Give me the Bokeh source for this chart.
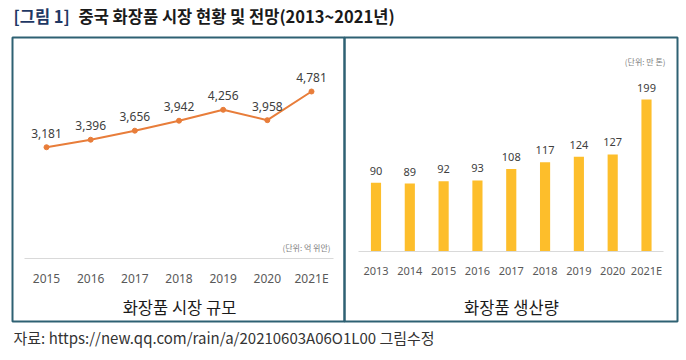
from bokeh.plotting import figure
from bokeh.models import Range1d, LinearAxis, FixedTicker, ColumnDataSource, LabelSet, Label
from bokeh.core.properties import value
from bokeh.embed import file_html
from bokeh.resources import INLINE

# ---- data ----
market_years = ["2015", "2016", "2017", "2018", "2019", "2020", "2021E"]
market_values = [3181, 3396, 3656, 3942, 4256, 3958, 4781]
prod_years = ["2013", "2014", "2015", "2016", "2017", "2018", "2019", "2020", "2021E"]
prod_values = [90, 89, 92, 93, 108, 117, 124, 127, 199]

title_tag = "[그림 1]"
title_text = "중국 화장품 시장 현황 및 전망(2013~2021년)"
left_title = "화장품 시장 규모"
right_title = "화장품 생산량"
left_unit = "(단위: 억 위안)"
right_unit = "(단위: 만 톤)"
source_note = "자료: https://new.qq.com/rain/a/20210603A06O1L00 그림수정"

KR = "Noto Sans CJK KR"
NUM = "Noto Sans"

W, H = 680, 350

p = figure(width=W, height=H, output_backend="svg", toolbar_location=None,
           x_range=Range1d(0, W), y_range=Range1d(H, 0),
           x_axis_type=None, y_axis_type=None, min_border=0,
           outline_line_color=None, background_fill_color="white",
           border_fill_color="white")


def x_range_for(v0, px0, v1, px1):
    s = (px1 - px0) / (v1 - v0)
    return Range1d(v0 - px0 / s, v0 + (W - px0) / s)


def y_range_for(v0, py0, v1, py1):
    # py measured from the top of the canvas
    b0, b1 = H - py0, H - py1
    s = (b1 - b0) / (v1 - v0)
    return Range1d(v0 - b0 / s, v0 + (H - b0) / s)


# layout anchors (canvas pixels)
p.extra_x_ranges = {
    "lx": x_range_for(0, 46, len(market_years) - 1, 311),
    "bx": x_range_for(0, 375.5, len(prod_years) - 1, 646),
}
p.extra_y_ranges = {
    "ly": y_range_for(0, 257.5, 4781, 91),
    "by": y_range_for(0, 251, 199, 99),
}

# frames
p.quad(left=[12, 344], right=[344, 677], top=[37, 37], bottom=[321, 321],
       fill_color=None, line_color="#2E6173", line_width=2)

# ---- line chart ----
src1 = ColumnDataSource(dict(i=list(range(len(market_years))), v=market_values,
                             lab=[f"{v:,}" for v in market_values]))
p.line(x="i", y="v", source=src1, x_range_name="lx", y_range_name="ly",
       line_color="#E87D3A", line_width=2)
p.scatter(x="i", y="v", source=src1, x_range_name="lx", y_range_name="ly",
          size=5, fill_color="#E87D3A", line_color="#E87D3A")
p.add_layout(LabelSet(x="i", y="v", text="lab", source=src1, x_range_name="lx",
                      y_range_name="ly", y_offset=14, text_align="center",
                      text_baseline="middle", text_font_size="12px",
                      text_color="#404040", text_font=value(NUM)))

ax1 = LinearAxis(x_range_name="lx", fixed_location=257.5, bounds=(-0.5, 6.5),
                 ticker=FixedTicker(ticks=list(range(len(market_years)))),
                 major_label_overrides={i: y for i, y in enumerate(market_years)},
                 axis_line_color="#D9D9D9", axis_line_width=1,
                 major_tick_line_color=None, minor_tick_line_color=None,
                 major_label_text_font_size="12px", major_label_text_color="#595959",
                 major_label_text_font=NUM, major_label_standoff=6)
p.add_layout(ax1, "below")

# ---- bar chart ----
src2 = ColumnDataSource(dict(i=list(range(len(prod_years))), v=prod_values,
                             lab=[str(v) for v in prod_values]))
p.vbar(x="i", top="v", bottom=0, width=0.3, source=src2, x_range_name="bx",
       y_range_name="by", fill_color="#FDBE2B", line_color=None)
p.add_layout(LabelSet(x="i", y="v", text="lab", source=src2, x_range_name="bx",
                      y_range_name="by", y_offset=12, text_align="center",
                      text_baseline="middle", text_font_size="11px",
                      text_color="#404040", text_font=value(NUM)))

ax2 = LinearAxis(x_range_name="bx", fixed_location=251, bounds=(-0.52, 8.5),
                 ticker=FixedTicker(ticks=list(range(len(prod_years)))),
                 major_label_overrides={i: y for i, y in enumerate(prod_years)},
                 axis_line_color="#D9D9D9", axis_line_width=1,
                 major_tick_line_color=None, minor_tick_line_color=None,
                 major_label_text_font_size="11px", major_label_text_color="#595959",
                 major_label_text_font=NUM, major_label_standoff=5)
p.add_layout(ax2, "below")

# ---- texts ----
p.add_layout(Label(x=13, y=15, text=title_tag, text_font=KR, text_font_size="16.5px",
                   text_font_style="bold", text_color="#1F3864", text_baseline="middle"))
p.add_layout(Label(x=78, y=15, text=title_text, text_font=KR, text_font_size="16.5px",
                   text_font_style="bold", text_color="#1A1A1A", text_baseline="middle"))
p.add_layout(Label(x=179, y=306, text=left_title, text_font=KR, text_font_size="16.5px",
                   text_color="#1A1A1A", text_align="center", text_baseline="middle"))
p.add_layout(Label(x=511, y=306, text=right_title, text_font=KR, text_font_size="16.5px",
                   text_color="#1A1A1A", text_align="center", text_baseline="middle"))
p.add_layout(Label(x=330, y=247, text=left_unit, text_font=KR, text_font_size="8px",
                   text_color="#808080", text_align="right", text_baseline="middle"))
p.add_layout(Label(x=665, y=61, text=right_unit, text_font=KR, text_font_size="8px",
                   text_color="#808080", text_align="right", text_baseline="middle"))
p.add_layout(Label(x=13, y=337, text=source_note, text_font=KR, text_font_size="15px",
                   text_color="#333333", text_baseline="middle"))

open("out.html", "w").write(file_html(p, INLINE))
